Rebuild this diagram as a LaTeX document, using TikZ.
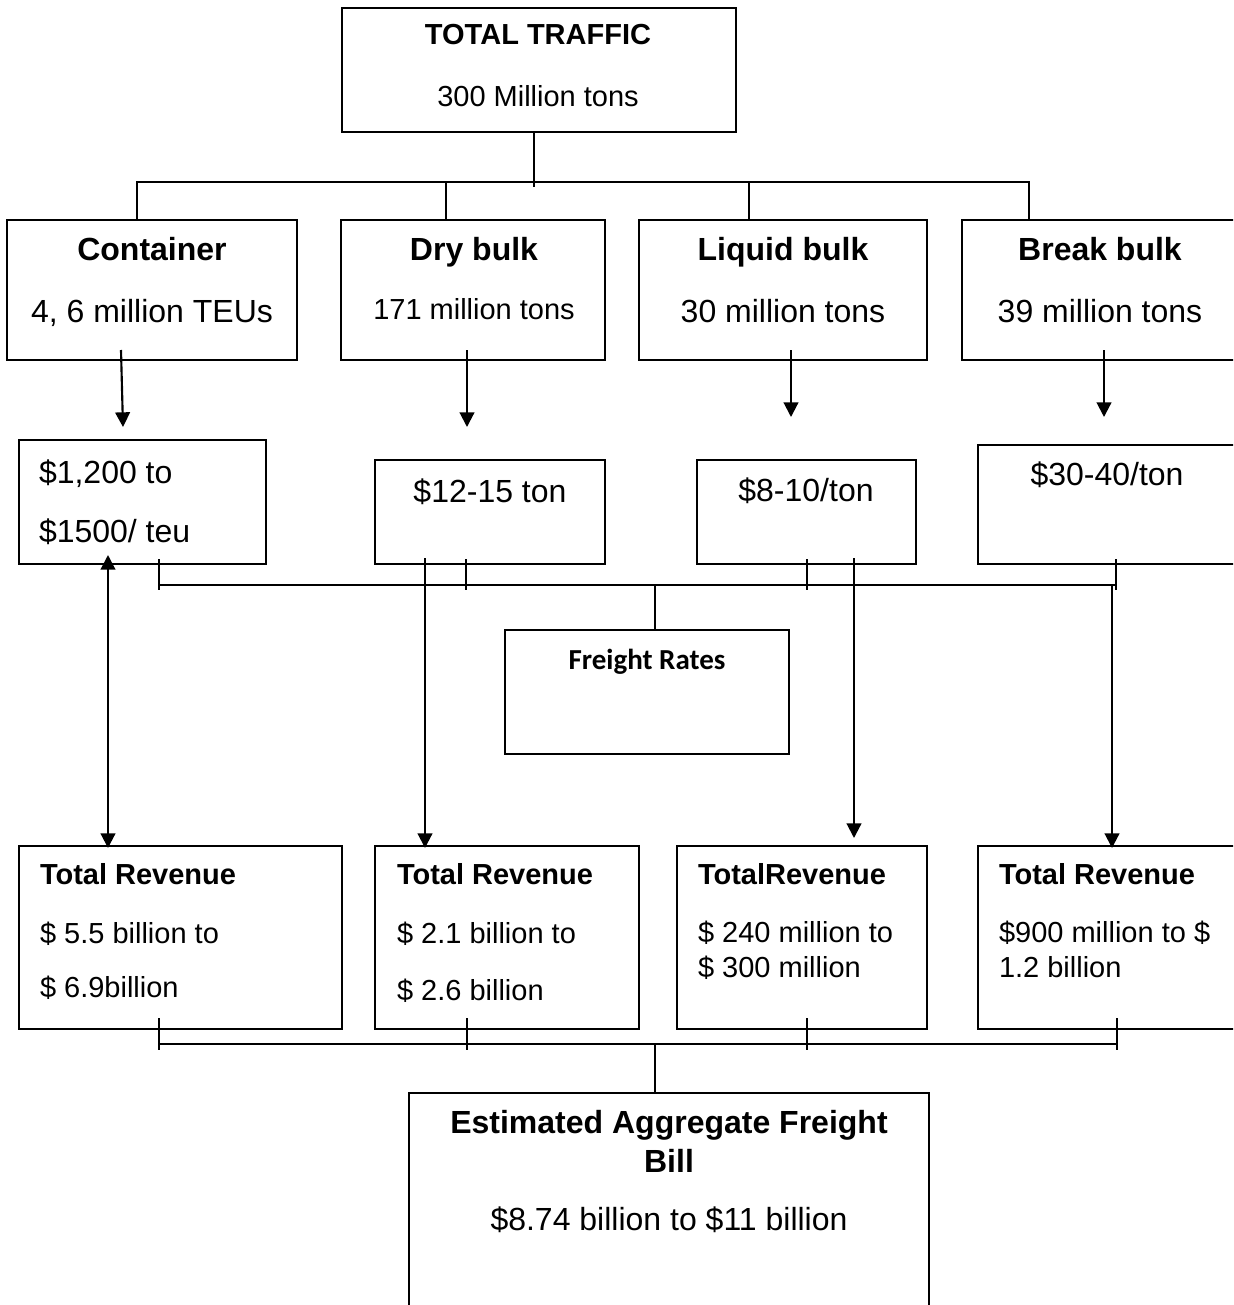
\documentclass[tikz,border=0pt]{standalone}
\usepackage{fontspec}
\setmainfont{Liberation Sans}
\newfontfamily\carlfont{Carlito}
\usetikzlibrary{arrows.meta,calc}
\newcommand{\mkbox}[5]{\node[bx, minimum width={(#4-(#2))*0.75pt}, minimum height={(#5-(#3))*0.75pt}] (#1) at ({(#2+#4)/2},{(#3+#5)/2}) {};}
\tikzset{
  bx/.style={draw, rectangle, line width=1.6pt, inner sep=0pt, outer sep=0pt},
  ln/.style={line width=1.6pt},
  arr/.style={ln, -{Triangle[length=11pt,width=11pt]}},
  darr/.style={ln, {Triangle[length=11pt,width=11pt]}-{Triangle[length=11pt,width=11pt]}},
  tx/.style={inner sep=0pt, outer sep=0pt},
  tbig/.style={tx, font=\fontsize{24}{28}\selectfont},
  tbigb/.style={tx, font=\fontsize{24}{28}\selectfont\bfseries},
  tmid/.style={tx, font=\fontsize{21.75}{26}\selectfont},
  tmidb/.style={tx, font=\fontsize{21.75}{26}\selectfont\bfseries},
  tcal/.style={tx, font=\fontsize{21.75}{26}\selectfont\carlfont\bfseries},
}
\begin{document}
\begin{tikzpicture}[x=0.75pt, y=-0.75pt]
\useasboundingbox (0,0) rectangle (1233,1305);
\clip (0,0) rectangle (1233,1305);
\fill[white] (0,0) rectangle (1233,1305);

% ---- top box
\mkbox{top}{342}{8}{736}{132}
\node[tmidb, anchor=base] (topt1) at (538,45) {TOTAL TRAFFIC};
\node[tmid, anchor=base] (topt2) at (538,107) {300 Million tons};

% ---- row 1
\mkbox{cont}{7}{220}{297}{360}
\node[tbigb, anchor=base] (contt1) at (152,260) {Container};
\node[tbig, anchor=base] (contt2) at (152,322) {4, 6 million TEUs};
\mkbox{dry}{341}{220}{605}{360}
\node[tbigb, anchor=base] (dryt1) at (474,260) {Dry bulk};
\node[tmid, anchor=base] (dryt2) at (474,319) {171 million tons};
\mkbox{liq}{639}{220}{927}{360}
\node[tbigb, anchor=base] (liqt1) at (783,260) {Liquid bulk};
\node[tbig, anchor=base] (liqt2) at (783,322) {30 million tons};
\mkbox{brk}{962}{220}{1240}{360}
\node[tbigb, anchor=base] (brkt1) at (1100,260) {Break bulk};
\node[tbig, anchor=base] (brkt2) at (1100,322) {39 million tons};

% ---- row 2
\mkbox{pc}{19}{440}{266}{564}
\node[tbig, anchor=base west] (pct1) at (39,483) {\$1,200 to};
\node[tbig, anchor=base west] (pct2) at (39,542) {\$1500/ teu};
\mkbox{pd}{375}{460}{605}{564}
\node[tbig, anchor=base] (pdt) at (490,502) {\$12-15 ton};
\mkbox{pl}{697}{460}{916}{564}
\node[tbig, anchor=base] (plt) at (806,501) {\$8-10/ton};
\mkbox{pb}{978}{445}{1245}{564}
\node[tbig, anchor=base] (pbt) at (1107,485) {\$30-40/ton};

% ---- freight rates
\mkbox{fr}{505}{630}{789}{754}
\node[tcal, anchor=base] (frt) at (647,669) {Freight Rates};

% ---- row 3
\mkbox{rc}{19}{846}{342}{1029}
\node[tmidb, anchor=base west] (rct1) at (40,884) {Total Revenue};
\node[tmid, anchor=base west] (rct2) at (40,943) {\$ 5.5 billion to};
\node[tmid, anchor=base west] (rct3) at (40,997) {\$ 6.9billion};
\mkbox{rd}{375}{846}{639}{1029}
\node[tmidb, anchor=base west] (rdt1) at (397,884) {Total Revenue};
\node[tmid, anchor=base west] (rdt2) at (397,943) {\$ 2.1 billion to};
\node[tmid, anchor=base west] (rdt3) at (397,1000) {\$ 2.6 billion};
\mkbox{rl}{677}{846}{927}{1029}
\node[tmidb, anchor=base west] (rlt1) at (698,884) {TotalRevenue};
\node[tmid, anchor=base west] (rlt2) at (698,942) {\$ 240 million to};
\node[tmid, anchor=base west] (rlt3) at (698,977) {\$ 300 million};
\mkbox{rb}{978}{846}{1245}{1029}
\node[tmidb, anchor=base west] (rbt1) at (999,884) {Total Revenue};
\node[tmid, anchor=base west] (rbt2) at (999,942) {\$900 million to \$};
\node[tmid, anchor=base west] (rbt3) at (999,977) {1.2 billion};

% ---- bottom box
\mkbox{est}{409}{1093}{929}{1330}
\node[tbigb, anchor=base] (estt1) at (669,1133) {Estimated Aggregate Freight};
\node[tbigb, anchor=base] (estt2) at (669,1172) {Bill};
\node[tbig, anchor=base] (estt3) at (669,1230) {\$8.74 billion to \$11 billion};

% ---- tree from top box
\coordinate (j0) at (534,182);
\coordinate (j0e) at (534,187);
\coordinate (bL) at (137,182);
\coordinate (bD) at (446,182);
\coordinate (bQ) at (749,182);
\coordinate (bR) at (1029,182);
\draw[ln] (top.south -| j0) -- (j0e);
\draw[ln] (bL |- cont.north) -- (bL) -- (bR) -- (bR |- brk.north);
\draw[ln] (bD) -- (bD |- dry.north);
\draw[ln] (bQ) -- (bQ |- liq.north);

% ---- row1 -> row2 arrows
\coordinate (a1s) at (121,350); \coordinate (a1e) at (123,427);
\coordinate (a2s) at (467,350); \coordinate (a2e) at (467,427);
\coordinate (a3s) at (791,350); \coordinate (a3e) at (791,417);
\coordinate (a4s) at (1104,350); \coordinate (a4e) at (1104,417);
\draw[arr] (a1s) -- (a1e);
\draw[arr] (a2s) -- (a2e);
\draw[arr] (a3s) -- (a3e);
\draw[arr] (a4s) -- (a4e);

% ---- bracket to freight rates
\coordinate (k1a) at (159,585);
\coordinate (k1b) at (466,585);
\coordinate (k1c) at (807,585);
\coordinate (k1d) at (1116,585);
\coordinate (k1m) at (655,585);
\draw[ln] (k1a) -- (k1d);
\foreach \k in {k1a,k1b,k1c,k1d}{
  \draw[ln] ($(\k)+(0,-26)$) -- ($(\k)+(0,5)$);
}
\draw[ln] (k1m) -- (k1m |- fr.north);

% ---- long arrows to revenue boxes
\coordinate (l1s) at (108,555); \coordinate (l1e) at (108,848);
\coordinate (l2s) at (425,558); \coordinate (l2e) at (425,848);
\coordinate (l3s) at (854,558); \coordinate (l3e) at (854,838);
\coordinate (l4s) at (1112,585); \coordinate (l4e) at (1112,848);
\draw[darr] (l1s) -- (l1e);
\draw[arr] (l2s) -- (l2e);
\draw[arr] (l3s) -- (l3e);
\draw[arr] (l4s) -- (l4e);

% ---- bracket to aggregate box
\coordinate (k2a) at (159,1044);
\coordinate (k2b) at (467,1044);
\coordinate (k2c) at (807,1044);
\coordinate (k2d) at (1117,1044);
\coordinate (k2m) at (655,1044);
\draw[ln] (k2a) -- (k2d);
\foreach \k in {k2a,k2b,k2c,k2d}{
  \draw[ln] ($(\k)+(0,-26)$) -- ($(\k)+(0,6)$);
}
\draw[ln] (k2m) -- (k2m |- est.north);
\end{tikzpicture}
\end{document}
